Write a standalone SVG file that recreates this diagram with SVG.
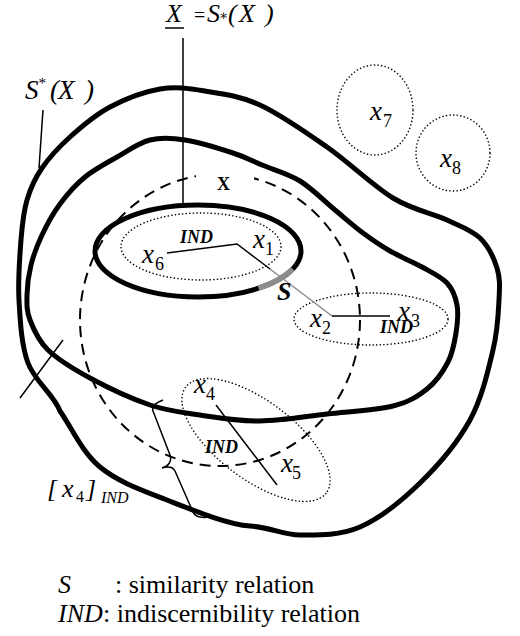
<svg xmlns="http://www.w3.org/2000/svg" width="520" height="636" viewBox="0 0 520 636" font-family="'Liberation Serif', 'DejaVu Serif', serif">
<style>
.thick{fill:none;stroke:#000;stroke-width:5;stroke-linejoin:round}
.dash{fill:none;stroke:#000;stroke-width:2;stroke-dasharray:11 7}
.dot{fill:none;stroke:#000;stroke-width:1.4;stroke-dasharray:1.4 2.2}
.thin{fill:none;stroke:#000;stroke-width:1.5}
.gray{fill:none;stroke:#8c8c8c;stroke-width:1.5}
text{font-family:'Liberation Serif','DejaVu Serif',serif;fill:#000}
.it{font-style:italic;font-size:27px}
.sub{font-style:normal;font-size:18px}
.bi{font-style:italic;font-weight:bold;font-size:18px}
.leg{font-size:26px}
</style>
<rect width="520" height="636" fill="#fff"/>
<g id="set-X">
<ellipse class="dash" cx="220" cy="320" rx="140" ry="146"/>
<rect x="196" y="166" width="58" height="16" fill="#fff"/>
<text x="217" y="190" style="font-weight:bold;font-size:18px">X</text>
</g>
<g id="upper-approximation">
<path class="thick" d="M160,89 C175.8,86.3 188.3,88.3 205,91 C221.7,93.7 239.7,95.7 260,105 C280.3,114.3 304.8,131.5 327,147 C349.2,162.5 373,185.8 393,198 C413,210.2 432.5,213.3 447,220 C461.5,226.7 471.7,230 480,238 C488.3,246 493.8,257.7 497,268 C500.2,278.3 499.7,286.3 499,300 C498.3,313.7 497.8,330 493,350 C488.2,370 482.2,397.8 470,420 C457.8,442.2 438.3,465.2 420,483 C401.7,500.8 380,518.3 360,527 C340,535.7 318.3,535.2 300,535 C281.7,534.8 272.2,527.5 250,526 C227.8,524.5 192,509.8 167,500 C142,490.2 117.8,481.8 100,467 C82.2,452.2 72,428.3 60,411 C53.2,393.7 34.8,381.5 28,363 C21.2,344.5 20.2,320.5 19,300 C17.8,279.5 19.7,256.7 21,240 C22.3,223.3 23.5,212 27,200 C30.5,188 34.8,178.5 42,168 C49.2,157.5 58.7,147.2 70,137 C81.3,126.8 95,115 110,107 C125,99 144.2,91.7 160,89 Z"/>
<text class="it" x="25" y="99">S<tspan class="sub" style="font-size:15px" dy="-11">*</tspan><tspan dy="11" x="50">(</tspan><tspan x="58">X</tspan><tspan x="85">)</tspan></text>
</g>
<g id="middle-region">
<path class="thick" d="M150,140 C161.3,137.2 171.2,137.8 185,140 C198.8,142.2 220.2,148.8 233,153 C245.8,157.2 250.8,160.3 262,165 C273.2,169.7 287.8,173.5 300,181 C312.2,188.5 324.5,201.3 335,210 C345.5,218.7 353.8,226.2 363,233 C372.2,239.8 380.2,245.3 390,251 C399.8,256.7 412.5,261.7 422,267 C431.5,272.3 441.2,276.7 447,283 C452.8,289.3 455.5,296.7 457,305 C458.5,313.3 457.5,323.5 456,333 C454.5,342.5 452.8,352.7 448,362 C443.2,371.3 436.2,381.7 427,389 C417.8,396.3 409.7,401.8 393,406 C376.3,410.2 349.2,411.5 327,414 C304.8,416.5 281.2,420.8 260,421 C238.8,421.2 218.3,417.7 200,415 C181.7,412.3 168.3,411.2 150,405 C131.7,398.8 107,387.2 90,378 C73,368.8 58,359.7 48,350 C38,340.3 33.5,329.2 30,320 C26.5,310.8 26.8,304.2 27,295 C27.2,285.8 28.5,275 31,265 C33.5,255 37.2,245.2 42,235 C46.8,224.8 52.8,213.7 60,204 C67.2,194.3 75.5,184.8 85,177 C94.5,169.2 106.2,163.2 117,157 C127.8,150.8 138.7,142.8 150,140 Z"/>
</g>
<g id="lower-approximation">
<ellipse class="thick" cx="198" cy="251" rx="103" ry="46"/>
<path d="M292.8,269 A103 46 0 0 1 258.5,288.2" fill="none" stroke="#8c8c8c" stroke-width="5.5"/>
<text class="it" x="166" y="22" style="font-size:26px">X</text>
<line class="thin" x1="165" y1="28" x2="184" y2="28"/>
<text class="it" x="194" y="22" style="font-size:26px"><tspan style="font-style:normal;font-size:20px">=</tspan><tspan x="207">S</tspan><tspan class="sub" style="font-size:14px" x="219" dy="-2">∗</tspan><tspan x="228" dy="2">(</tspan><tspan x="239">X</tspan><tspan x="265">)</tspan></text>
</g>
<g id="class-x1-x6">
<ellipse class="dot" cx="201" cy="246.5" rx="80" ry="33.5"/>
<text class="it" x="142" y="263">x<tspan class="sub" x="155" dy="7">6</tspan></text>
<text class="it" x="253" y="248">x<tspan class="sub" x="265" dy="7">1</tspan></text>
<text class="bi" x="180" y="243">IND</text>
</g>
<g id="class-x2-x3">
<ellipse class="dot" cx="371" cy="319" rx="77" ry="26"/>
<text class="it" x="310" y="327">x<tspan class="sub" x="322" dy="7">2</tspan></text>
<text class="it" x="398" y="320">x<tspan class="sub" x="411" dy="7">3</tspan></text>
<text class="bi" x="380" y="333">IND</text>
</g>
<g id="class-x4-x5">
<ellipse class="dot" cx="256" cy="440" rx="88" ry="39" transform="rotate(37 256 440)"/>
<text class="it" x="194" y="393">x<tspan class="sub" x="206" dy="7">4</tspan></text>
<text class="it" x="281" y="472">x<tspan class="sub" x="292" dy="7">5</tspan></text>
<text class="bi" x="205" y="453">IND</text>
<text class="it" x="47" y="497" style="font-size:26px">[<tspan x="62">x</tspan><tspan class="sub" style="font-size:16px" x="76" dy="5">4</tspan><tspan x="86" dy="-5">]</tspan><tspan x="101" dy="6" style="font-size:16px">IND</tspan></text>
</g>
<g id="class-x7">
<ellipse class="dot" cx="375" cy="110" rx="38" ry="45"/>
<text class="it" x="370" y="120">x<tspan class="sub" x="383" dy="7">7</tspan></text>
</g>
<g id="class-x8">
<ellipse class="dot" cx="453" cy="153" rx="37" ry="38"/>
<text class="it" x="440" y="167">x<tspan class="sub" x="452" dy="7">8</tspan></text>
</g>
<g id="connectors">
<line class="thin" x1="183" y1="38" x2="183" y2="205"/>
<line class="thin" x1="43" y1="110" x2="39" y2="168"/>
<line class="thin" x1="20" y1="398" x2="63" y2="340"/>
<polyline class="thin" points="167,253 237,244 270,269"/>
<line class="gray" x1="270" y1="269" x2="332" y2="316"/>
<line class="thin" x1="332" y1="316" x2="390" y2="316"/>
<line class="thin" x1="216" y1="405" x2="277" y2="485"/>
<path class="thin" d="M163,400 C157,402 151,406 153,411 L170,455 C172,461 169,466 162,468 C169,466 173,467 175,471 L193,512 C195,517 203,519 213,516"/>
</g>
<g id="legend">
<text class="leg" x="58" y="593"><tspan style="font-style:italic">S</tspan><tspan x="115">: similarity relation</tspan></text>
<text class="leg" x="58" y="622"><tspan style="font-style:italic">IND</tspan><tspan x="103">: indiscernibility relation</tspan></text>
</g>
<text class="bi" x="277" y="300" style="font-size:26px">S</text>
</svg>
